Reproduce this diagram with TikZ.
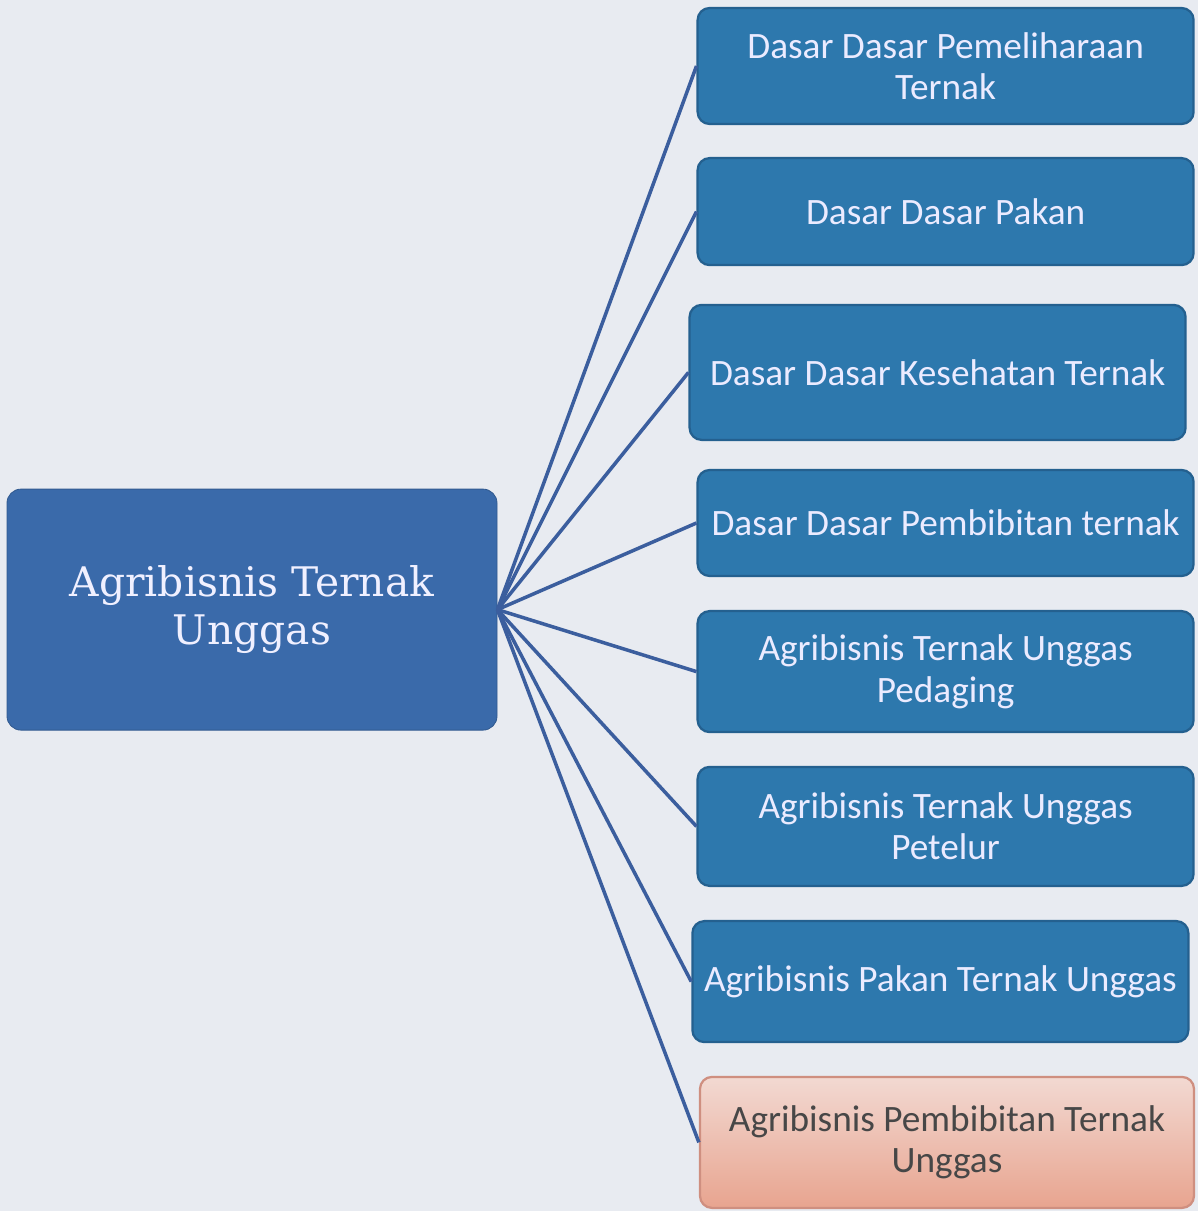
\documentclass[tikz,border=0pt]{standalone}
\usepackage{fontspec}
\setsansfont{Carlito}
\newfontfamily\rootfont{DejaVu Serif}
\usepackage{xcolor}
\usetikzlibrary{positioning}

\definecolor{paper}{HTML}{E8EBF1}
\definecolor{rootblue}{HTML}{3A6AAA}
\definecolor{leafblue}{HTML}{2D78AD}
\definecolor{leafedge}{HTML}{24608F}
\definecolor{linkblue}{HTML}{3B5E9E}
\definecolor{pinktop}{HTML}{F2D9D2}
\definecolor{pinkbot}{HTML}{E8A48F}
\definecolor{pinkedge}{HTML}{CF8F80}

\begin{document}
\begin{tikzpicture}[
  root/.style={rectangle, rounded corners=0.35cm, fill=rootblue, draw=rootblue!85!black, line width=0.6pt,
    minimum width=12.25cm, minimum height=6.025cm, text=white!94!blue, align=center,
    font=\rootfont\fontsize{29}{34}\selectfont},
  leaf/.style={rectangle, rounded corners=0.3cm, fill=leafblue, draw=leafedge, line width=1.6pt,
    minimum width=12.4cm, text=white!92!blue, align=center, inner sep=2pt,
    font=\sffamily\fontsize{26.5}{29.5}\selectfont},
  pinkleaf/.style={leaf, top color=pinktop, bottom color=pinkbot,
    draw=pinkedge, text=black!72},
  link/.style={draw=linkblue, line width=2.5pt}
]
  \fill[paper] (0,0) rectangle (29.95,-30.275);
  \useasboundingbox (0,0) rectangle (29.95,-30.275);

  \node[root] (root) at (6.3,-15.24) {Agribisnis Ternak\\Unggas};

  \node[leaf, minimum height=2.9cm] (pemel) at (23.64,-1.65) {Dasar Dasar Pemeliharaan\\Ternak};
  \node[leaf, minimum height=2.675cm] (pakan) at (23.64,-5.29) {Dasar Dasar Pakan};
  \node[leaf, minimum height=3.375cm] (sehat) at (23.44,-9.31) {Dasar Dasar Kesehatan Ternak};
  \node[leaf, minimum height=2.65cm] (bibit) at (23.64,-13.075) {Dasar Dasar Pembibitan ternak};
  \node[leaf, minimum height=3.025cm] (daging) at (23.64,-16.79) {Agribisnis Ternak Unggas\\Pedaging};
  \node[leaf, minimum height=2.975cm] (telur) at (23.64,-20.66) {Agribisnis Ternak Unggas\\Petelur};
  \node[leaf, minimum height=3.025cm] (pkunggas) at (23.51,-24.54) {Agribisnis Pakan Ternak Unggas};
  \node[pinkleaf, minimum height=3.275cm, minimum width=12.35cm] (pbunggas) at (23.675,-28.56) {Agribisnis Pembibitan Ternak\\Unggas};

  % garis penghubung
  \foreach \n in {pemel,pakan,sehat,bibit,daging,telur,pkunggas,pbunggas}
    \draw[link] (root.east) -- (\n.west);
\end{tikzpicture}
\end{document}
